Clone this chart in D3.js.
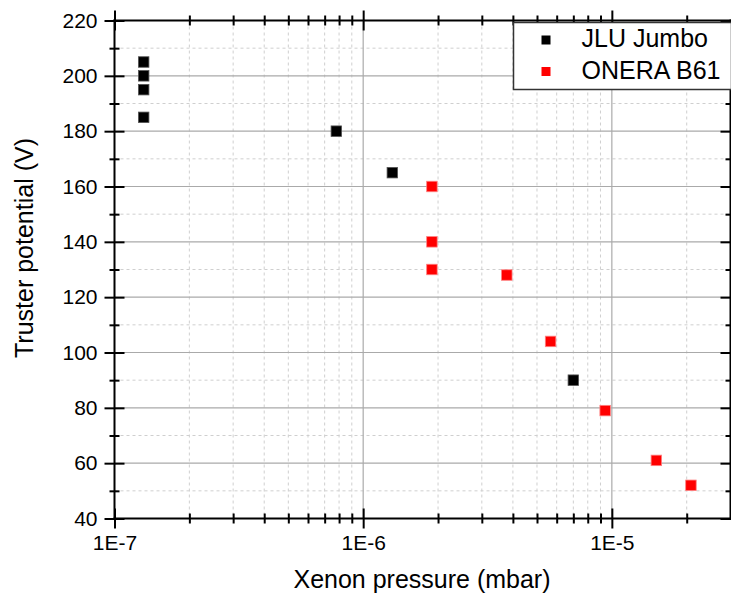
<!DOCTYPE html>
<html>
<head>
<meta charset="utf-8">
<script src="https://cdn.jsdelivr.net/npm/d3@7"></script>
<style>
  body { margin: 0; background: #fff; }
  svg { display: block; font-family: "Liberation Sans", Arial, sans-serif; }
  .axis path { stroke: #000; stroke-width: 2; }
  .axis line { stroke: #000; stroke-width: 2; }
  .axis text { font-size: 21px; fill: #000; font-family: "Liberation Sans", Arial, sans-serif; }
  .grid-major { stroke: #aaaaaa; stroke-width: 1.2; }
  .grid-minor { stroke: #cfcfcf; stroke-width: 1; stroke-dasharray: 3,3; }
</style>
</head>
<body>
<svg id="chart" width="731" height="599"></svg>
<script>
// Series data: xenon pressure (mbar) and thruster potential (V)
const jluPressure = [1.31e-7, 1.31e-7, 1.31e-7, 1.31e-7, 7.8e-7, 1.31e-6, 7.0e-6];
const jluPotential = [205, 200, 195, 185, 180, 165, 90];
const oneraPressure = [1.89e-6, 1.89e-6, 1.89e-6, 3.78e-6, 5.67e-6, 9.4e-6, 1.51e-5, 2.08e-5];
const oneraPotential = [160, 140, 130, 128, 104, 79, 61, 52];

const seriesNames = ["JLU Jumbo", "ONERA B61"];
const seriesColors = ["#000000", "#ff0000"];

// Axis ticks
const xMajor = [1e-7, 1e-6, 1e-5];
const xMajorLabels = ["1E-7", "1E-6", "1E-5"];
const xMinor = [2e-7, 3e-7, 4e-7, 5e-7, 6e-7, 7e-7, 8e-7, 9e-7,
                2e-6, 3e-6, 4e-6, 5e-6, 6e-6, 7e-6, 8e-6, 9e-6, 2e-5];
const yMajor = [40, 60, 80, 100, 120, 140, 160, 180, 200, 220];
const yMinor = [50, 70, 90, 110, 130, 150, 170, 190, 210];

const svg = d3.select("#chart");
const plotLeft = 114.5, plotRight = 730.5, plotTop = 20.5, plotBottom = 518.5;

const x = d3.scaleLog().domain([1e-7, 3e-5]).range([plotLeft, plotRight]);
const y = d3.scaleLinear().domain([40, 220]).range([plotBottom, plotTop]);

// Grid lines
const grid = svg.append("g");
grid.selectAll(".gx-minor").data(xMinor).enter().append("line")
  .attr("class", "grid-minor")
  .attr("x1", d => x(d)).attr("x2", d => x(d))
  .attr("y1", plotTop).attr("y2", plotBottom);
grid.selectAll(".gy-minor").data(yMinor).enter().append("line")
  .attr("class", "grid-minor")
  .attr("x1", plotLeft).attr("x2", plotRight)
  .attr("y1", d => y(d)).attr("y2", d => y(d));
grid.selectAll(".gx-major").data(xMajor.slice(1)).enter().append("line")
  .attr("class", "grid-major")
  .attr("x1", d => x(d)).attr("x2", d => x(d))
  .attr("y1", plotTop).attr("y2", plotBottom);
grid.selectAll(".gy-major").data(yMajor.slice(1, -1)).enter().append("line")
  .attr("class", "grid-major")
  .attr("x1", plotLeft).attr("x2", plotRight)
  .attr("y1", d => y(d)).attr("y2", d => y(d));

// Draw an axis with ticks crossing the axis line on both sides
function drawAxis(axisFn, scale, major, minor, transform, labels) {
  const gMaj = svg.append("g").attr("class", "axis").attr("transform", transform)
    .call(axisFn(scale).tickValues(major).tickSize(10).tickPadding(labels ? 7 : 0)
      .tickFormat((d, i) => labels ? labels[i] : ""));
  const gMin = svg.append("g").attr("class", "axis").attr("transform", transform)
    .call(axisFn(scale).tickValues(minor).tickSize(5).tickFormat(""));
  gMin.select(".domain").remove();
  [gMaj, gMin].forEach(g => {
    g.selectAll(".tick line").each(function() {
      const l = d3.select(this);
      if (l.attr("x2") != null && +l.attr("x2") !== 0) l.attr("x1", -l.attr("x2"));
      if (l.attr("y2") != null && +l.attr("y2") !== 0) l.attr("y1", -l.attr("y2"));
    });
  });
  gMaj.select(".domain").remove();
  return gMaj;
}

function domainX(g) {
  g.append("line").attr("x1", plotLeft - 1).attr("x2", plotRight + 1).attr("y1", 0).attr("y2", 0)
    .attr("stroke", "#000").attr("stroke-width", 2);
}
function domainY(g) {
  g.append("line").attr("y1", plotTop - 1).attr("y2", plotBottom + 1).attr("x1", 0).attr("x2", 0)
    .attr("stroke", "#000").attr("stroke-width", 2);
}

const xb = drawAxis(d3.axisBottom, x, xMajor, xMinor, `translate(0,${plotBottom})`, xMajorLabels);
domainX(xb);
const xt = drawAxis(d3.axisTop, x, xMajor, xMinor, `translate(0,${plotTop})`, null);
domainX(xt);
const yl = drawAxis(d3.axisLeft, y, yMajor, yMinor, `translate(${plotLeft},0)`, yMajor.map(String));
domainY(yl);
const yr = drawAxis(d3.axisRight, y, yMajor, yMinor, `translate(${plotRight},0)`, null);
domainY(yr);

// Markers
const size = 10.5;
function drawSeries(xs, ys, color, stroke) {
  svg.append("g").selectAll("rect").data(xs).enter().append("rect")
    .attr("x", (d) => x(d) - size / 2)
    .attr("y", (d, i) => y(ys[i]) - size / 2)
    .attr("width", size).attr("height", size)
    .attr("fill", color)
    .attr("stroke", stroke).attr("stroke-width", 0.8);
}
drawSeries(jluPressure, jluPotential, seriesColors[0], "#555");
drawSeries(oneraPressure, oneraPotential, seriesColors[1], "#ff8080");

// Legend
const legend = svg.append("g");
legend.append("rect")
  .attr("x", 513.5).attr("y", 22.5).attr("width", 218).attr("height", 67)
  .attr("fill", "#fff").attr("stroke", "#333").attr("stroke-width", 1.5);
seriesNames.forEach((name, i) => {
  legend.append("rect")
    .attr("x", 541.5).attr("y", 35.5 + i * 31.5).attr("width", 9).attr("height", 9)
    .attr("fill", seriesColors[i]);
  legend.append("text")
    .attr("x", 581.5).attr("y", 47 + i * 31.5)
    .attr("font-size", 25).attr("fill", "#000")
    .text(name);
});

// Axis titles
svg.append("text")
  .attr("x", 422).attr("y", 588)
  .attr("text-anchor", "middle").attr("font-size", 25)
  .text("Xenon pressure (mbar)");
svg.append("text")
  .attr("transform", "translate(33,248) rotate(-90)")
  .attr("text-anchor", "middle").attr("font-size", 25)
  .text("Truster potential (V)");
</script>
</body>
</html>
